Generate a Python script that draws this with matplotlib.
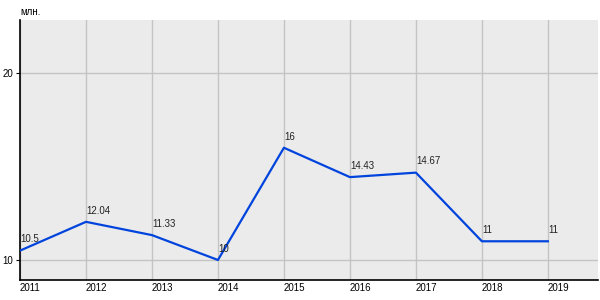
import matplotlib.pyplot as plt

plt.rcParams["font.family"] = ["Liberation Sans", "DejaVu Sans"]

years = [2011, 2012, 2013, 2014, 2015, 2016, 2017, 2018, 2019]
values = [10.5, 12.04, 11.33, 10, 16, 14.43, 14.67, 11, 11]
labels = ["10.5", "12.04", "11.33", "10", "16", "14.43", "14.67", "11", "11"]
y_ticks = [10, 20]

fig = plt.figure(figsize=(6, 3), dpi=100)
ax = fig.add_axes([20 / 600, 20 / 300, 578 / 600, 260 / 300])
ax.set_facecolor("#ebebeb")

ax.plot(years, values, color="#0044dd", linewidth=1.6, zorder=3)
for x, y, s in zip(years, values, labels):
    ax.annotate(s, (x, y), xytext=(0, 4.5), textcoords="offset points",
                ha="left", va="bottom", fontsize=7, color="#222222")

ax.set_xlim(2011, 2019.76)
ax.set_ylim(8.93, 22.83)
ax.set_xticks(years)
ax.set_yticks(y_ticks)
ax.grid(True, color="#c4c4c4", linewidth=1)
ax.set_axisbelow(True)

for side in ("top", "right"):
    ax.spines[side].set_visible(False)
ax.spines["left"].set_linewidth(1.2)
ax.spines["bottom"].set_linewidth(1.2)
ax.tick_params(axis="x", length=0, pad=2.5, labelsize=7)
ax.tick_params(axis="y", length=3, pad=2, labelsize=7)
for lbl in ax.get_xticklabels():
    lbl.set_horizontalalignment("left")

fig.text(20 / 600, 1 - 12 / 300, "млн.", fontsize=7, va="center", ha="left")

fig.savefig("out.png", dpi=100)
